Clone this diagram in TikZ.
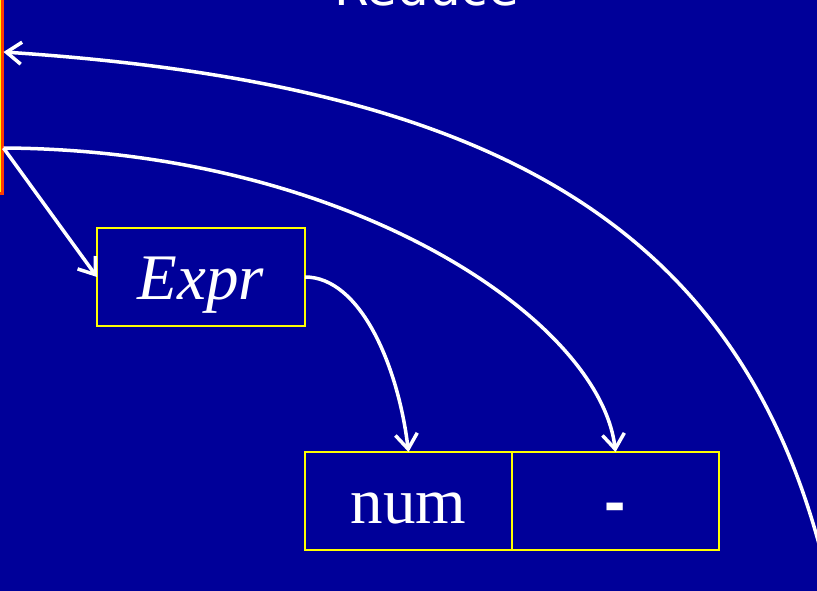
\documentclass[tikz,border=0pt]{standalone}
\usepackage{fontspec}
\setmainfont{Liberation Serif}
\newfontfamily\titlefont{DejaVu Sans}
\newfontfamily\dashfont{Liberation Sans}
\usetikzlibrary{arrows.meta, positioning, calc}
\definecolor{slidebg}{RGB}{0,0,153}
\definecolor{boxline}{RGB}{255,255,0}
\definecolor{barline}{RGB}{255,60,0}

\begin{document}
\begin{tikzpicture}[
  x=1pt, y=-1pt,
  box/.style={draw=boxline, line width=2pt, minimum width=207pt,
              minimum height=98pt, inner sep=0pt, outer sep=0pt, text=white,
              text height=58pt, text depth=14pt,
              font=\fontsize{65}{78}\selectfont},
  bar/.style={draw=barline, fill=boxline, line width=3pt, inner sep=0pt,
              minimum width=40pt, minimum height=230pt},
  arr/.style={-{Straight Barb[length=15pt, width=22pt]}, white, line width=3.5pt}]
  \fill[slidebg] (0,0) rectangle (817,591);
  \useasboundingbox (0,0) rectangle (817,591);
  \node[anchor=base, text=white, font=\titlefont\fontsize{50}{60}\selectfont]
        (title) at (426.5,6) {Reduce};
  \node[bar, anchor=south east] (lhs) at (3.5,195.5) {};
  \node[box, minimum width=208pt] (expr) at (201,277) {\itshape Expr};
  \node[box, below right=126pt and 0pt of expr] (num) {num};
  \node[box, right=0pt of num, font=\dashfont\bfseries\fontsize{64}{77}\selectfont]
        (minus) {-};
  \coordinate (tail) at (832,598);
  \draw[arr] ($(lhs.south east)+(0,-47.5)$) -- (expr.west);
  \draw[arr] ($(lhs.south east)+(0,-47.5)$) .. controls (350,150) and (600,320)
        .. (minus.north);
  \draw[arr] (expr.east) .. controls (360,277) and (398,365) .. (num.north);
  \draw[arr] (tail) .. controls (755,230) and (503,85)
        .. ($(lhs.south east)+(0,-143.5)$);
\end{tikzpicture}
\end{document}
